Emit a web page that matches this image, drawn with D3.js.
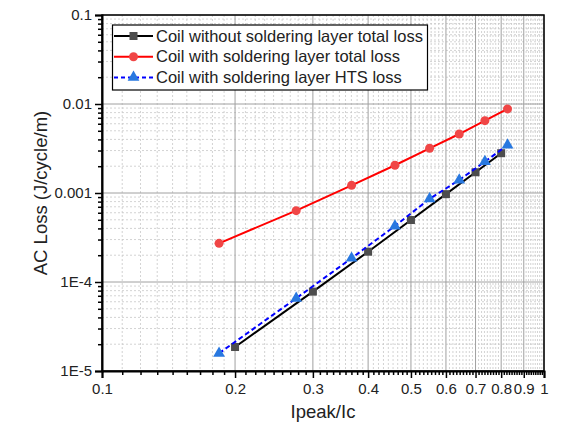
<!DOCTYPE html>
<html>
<head>
<meta charset="utf-8">
<script src="https://d3js.org/d3.v7.min.js"></script>
<style>
  body { margin: 0; background: #fff; }
  svg { font-family: "Liberation Sans", Arial, sans-serif; }
</style>
</head>
<body>
<svg id="chart" width="581" height="426"></svg>
<script>

// Ipeak/Ic values (same for the three series)
var ipeak = [0.184, 0.275, 0.367, 0.46, 0.551, 0.643, 0.735, 0.827];
var ipeakNoSolder = [0.2, 0.3, 0.4, 0.5, 0.6, 0.7, 0.8];

var lossNoSolder = [1.86e-5, 7.8e-5, 2.19e-4, 4.97e-4, 9.7e-4, 1.71e-3, 2.8e-3];
var lossSolderTotal = [2.72e-4, 6.33e-4, 1.22e-3, 2.05e-3, 3.18e-3, 4.6e-3, 6.5e-3, 8.8e-3];
var lossSolderHTS = [1.58e-5, 6.56e-5, 1.85e-4, 4.26e-4, 8.6e-4, 1.4e-3, 2.25e-3, 3.46e-3];

var xTicks = [0.1, 0.2, 0.3, 0.4, 0.5, 0.6, 0.7, 0.8, 0.9, 1];
var xTickLabels = ["0.1", "0.2", "0.3", "0.4", "0.5", "0.6", "0.7", "0.8", "0.9", "1"];
var yTicks = [1e-5, 1e-4, 1e-3, 1e-2, 1e-1];
var yTickLabels = ["1E-5", "1E-4", "0.001", "0.01", "0.1"];

var legendLabels = [
  "Coil without soldering layer total loss",
  "Coil with soldering layer total loss",
  "Coil with soldering layer HTS loss"
];

var svg = d3.select("#chart"),
    pLeft = 102, pRight = 544, pTop = 15, pBottom = 371;

var x = d3.scaleLog().domain([0.1, 1]).range([pLeft, pRight]);
var y = d3.scaleLog().domain([1e-5, 0.1]).range([pBottom, pTop]);

// minor ticks: 8 per interval on x, 2..9 per decade on y
var xMinor = [];
for (var i = 0; i < xTicks.length - 1; i++) {
  for (var k = 1; k <= 8; k++) xMinor.push(xTicks[i] + k * (xTicks[i + 1] - xTicks[i]) / 9);
}
var yMinor = [];
for (var i = 0; i < yTicks.length - 1; i++) {
  for (var k = 2; k <= 9; k++) yMinor.push(yTicks[i] * k);
}

// grid
var grid = svg.append("g");
grid.selectAll(".xminor").data(xMinor).enter().append("line")
    .attr("x1", d => x(d)).attr("x2", d => x(d))
    .attr("y1", pTop).attr("y2", pBottom)
    .attr("stroke", "#c8c8c8").attr("stroke-width", 0.8).attr("stroke-dasharray", "2,2");
grid.selectAll(".yminor").data(yMinor).enter().append("line")
    .attr("x1", pLeft).attr("x2", pRight)
    .attr("y1", d => y(d)).attr("y2", d => y(d))
    .attr("stroke", "#c8c8c8").attr("stroke-width", 0.8).attr("stroke-dasharray", "2,2");
grid.selectAll(".xmajor").data(xTicks).enter().append("line")
    .attr("x1", d => x(d)).attr("x2", d => x(d))
    .attr("y1", pTop).attr("y2", pBottom)
    .attr("stroke", "#a0a0a0").attr("stroke-width", 1);
grid.selectAll(".ymajor").data(yTicks).enter().append("line")
    .attr("x1", pLeft).attr("x2", pRight)
    .attr("y1", d => y(d)).attr("y2", d => y(d))
    .attr("stroke", "#a0a0a0").attr("stroke-width", 1);

// axes
svg.append("g").attr("transform", "translate(0," + pBottom + ")")
    .call(d3.axisBottom(x).tickValues(xTicks).tickSize(7).tickPadding(5)
      .tickFormat((d, i) => xTickLabels[i]));
svg.append("g").attr("transform", "translate(0," + pBottom + ")")
    .call(d3.axisBottom(x).tickValues(xMinor).tickSize(4).tickFormat(""))
    .select(".domain").remove();

svg.append("g").attr("transform", "translate(" + pLeft + ",0)")
    .call(d3.axisLeft(y).tickValues(yTicks).tickSize(7).tickPadding(3)
      .tickFormat((d, i) => yTickLabels[i]));
svg.append("g").attr("transform", "translate(" + pLeft + ",0)")
    .call(d3.axisLeft(y).tickValues(yMinor).tickSize(4).tickFormat(""))
    .select(".domain").remove();

svg.selectAll(".tick line").attr("stroke", "#000").attr("stroke-width", 1.5);
svg.selectAll(".domain").attr("stroke", "#000").attr("stroke-width", 2);
svg.selectAll(".tick text").attr("font-size", 15).attr("fill", "#222")
    .attr("font-family", "Liberation Sans, Arial, sans-serif");

// frame
svg.append("rect").attr("x", pLeft).attr("y", pTop)
    .attr("width", pRight - pLeft).attr("height", pBottom - pTop)
    .attr("fill", "none").attr("stroke", "#000").attr("stroke-width", 1.5);

// axis titles
svg.append("text").attr("x", (pLeft + pRight) / 2).attr("y", 418)
    .attr("text-anchor", "middle").attr("font-size", 18.5).attr("fill", "#222")
    .text("Ipeak/Ic");
svg.append("text").attr("transform", "translate(47," + (pTop + pBottom) / 2 + ") rotate(-90)")
    .attr("text-anchor", "middle").attr("font-size", 18.5).attr("fill", "#222")
    .text("AC Loss (J/cycle/m)");

// series
var line = d3.line().x(d => x(d[0])).y(d => y(d[1]));

var blackData = ipeakNoSolder.map((v, i) => [v, lossNoSolder[i]]);
var redData = ipeak.map((v, i) => [v, lossSolderTotal[i]]);
var blueData = ipeak.map((v, i) => [v, lossSolderHTS[i]]);

svg.append("path").datum(blackData).attr("d", line)
    .attr("fill", "none").attr("stroke", "#000").attr("stroke-width", 2);
svg.selectAll(".sq").data(blackData).enter().append("rect")
    .attr("x", d => x(d[0]) - 4).attr("y", d => y(d[1]) - 4)
    .attr("width", 8).attr("height", 8).attr("fill", "#4d4d4d");

svg.append("path").datum(redData).attr("d", line)
    .attr("fill", "none").attr("stroke", "#ff0000").attr("stroke-width", 2);
svg.selectAll(".ci").data(redData).enter().append("circle")
    .attr("cx", d => x(d[0])).attr("cy", d => y(d[1])).attr("r", 4.5)
    .attr("fill", "#f04646");

var tri = d3.symbol().type(d3.symbolTriangle).size(60);
svg.append("path").datum(blueData).attr("d", line)
    .attr("fill", "none").attr("stroke", "#0000ff").attr("stroke-width", 2)
    .attr("stroke-dasharray", "5,3");
svg.selectAll(".tr").data(blueData).enter().append("path")
    .attr("d", tri)
    .attr("transform", d => "translate(" + x(d[0]) + "," + y(d[1]) + ")")
    .attr("fill", "#2878e0");

// legend
var lg = svg.append("g");
lg.append("rect").attr("x", 112.5).attr("y", 25).attr("width", 315).attr("height", 65)
    .attr("fill", "#fff").attr("stroke", "#000").attr("stroke-width", 1.2);
var rows = [
  {stroke: "#000", dash: null, shape: "square", fill: "#4d4d4d"},
  {stroke: "#ff0000", dash: null, shape: "circle", fill: "#f04646"},
  {stroke: "#0000ff", dash: "4,3", shape: "triangle", fill: "#2878e0"}
];
rows.forEach(function(r, i) {
  var yy = 36 + i * 20.7;
  lg.append("line").attr("x1", 114).attr("x2", 153).attr("y1", yy).attr("y2", yy)
      .attr("stroke", r.stroke).attr("stroke-width", 2)
      .attr("stroke-dasharray", r.dash);
  if (r.shape == "square") {
    lg.append("rect").attr("x", 129.5).attr("y", yy - 4).attr("width", 8).attr("height", 8).attr("fill", r.fill);
  } else if (r.shape == "circle") {
    lg.append("circle").attr("cx", 133.5).attr("cy", yy).attr("r", 4.5).attr("fill", r.fill);
  } else {
    lg.append("path").attr("d", tri).attr("transform", "translate(133.5," + yy + ")").attr("fill", r.fill);
  }
  lg.append("text").attr("x", 156).attr("y", yy).attr("dy", "0.35em")
      .attr("font-size", 16.5).attr("fill", "#222").text(legendLabels[i]);
});

</script>
</body>
</html>
